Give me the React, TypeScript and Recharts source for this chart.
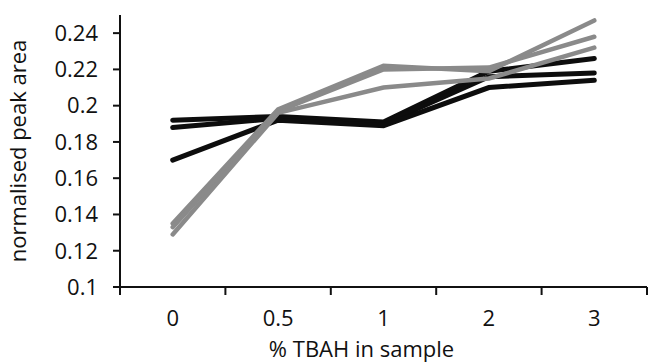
import { LineChart, Line, XAxis, YAxis } from "recharts"

const categories = ["0", "0.5", "1", "2", "3"]

const black1 = [0.192, 0.194, 0.191, 0.219, 0.226]
const black2 = [0.188, 0.193, 0.19, 0.216, 0.218]
const black3 = [0.17, 0.192, 0.189, 0.21, 0.214]
const grey1 = [0.135, 0.198, 0.222, 0.219, 0.247]
const grey2 = [0.133, 0.197, 0.22, 0.221, 0.238]
const grey3 = [0.129, 0.196, 0.21, 0.215, 0.232]

const yTicks = [0.1, 0.12, 0.14, 0.16, 0.18, 0.2, 0.22, 0.24]
const xTicks = [-0.5, 0, 0.5, 1, 1.5, 2, 2.5, 3, 3.5, 4, 4.5]

const data = categories.map((c, i) => ({
  x: i,
  b1: black1[i],
  b2: black2[i],
  b3: black3[i],
  g1: grey1[i],
  g2: grey2[i],
  g3: grey3[i],
}))

const font = "'Open Sans', sans-serif"

function XTick(props: any) {
  const { x, y, payload } = props
  const v = payload.value
  if (Number.isInteger(v)) {
    return (
      <text x={x} y={y + 39} textAnchor="middle" fontSize={22} fontFamily={font} fill="#111">
        {categories[v]}
      </text>
    )
  }
  return <line x1={x} x2={x} y1={y} y2={y + 8} stroke="#111" strokeWidth={2} />
}

const BLACK = "#0d0d0d"
const GREY = "#8a8a8a"

export default function App() {
  return (
    <div style={{ position: "absolute", left: 0, top: 0, background: "#fff" }}>
      <LineChart width={650} height={363} data={data} margin={{ top: 15, right: 3, left: 0, bottom: 0 }}>
        <XAxis
          dataKey="x"
          type="number"
          domain={[-0.5, 4.5]}
          ticks={xTicks}
          interval={0}
          tick={<XTick />}
          tickLine={false}
          tickSize={0}
          tickMargin={0}
          height={76}
          axisLine={{ stroke: "#111", strokeWidth: 2 }}
          label={{
            value: "% TBAH in sample",
            position: "insideBottom",
            offset: 6,
            dx: -22,
            fontSize: 22,
            fontFamily: font,
            fill: "#111",
          }}
        />
        <YAxis
          type="number"
          domain={[0.1, 0.25]}
          ticks={yTicks}
          interval={0}
          width={120}
          tickSize={7}
          tickMargin={15}
          tick={{ fontSize: 22, fontFamily: font, fill: "#111" }}
          tickLine={{ stroke: "#111", strokeWidth: 2 }}
          axisLine={{ stroke: "#111", strokeWidth: 2 }}
          label={{
            value: "normalised peak area",
            angle: -90,
            position: "insideLeft",
            offset: 18,
            fontSize: 22,
            fontFamily: font,
            fill: "#111",
            style: { textAnchor: "middle" },
          }}
        />
        <Line dataKey="b1" stroke={BLACK} strokeWidth={5} dot={false} isAnimationActive={false} strokeLinecap="round" />
        <Line dataKey="b2" stroke={BLACK} strokeWidth={5} dot={false} isAnimationActive={false} strokeLinecap="round" />
        <Line dataKey="b3" stroke={BLACK} strokeWidth={5} dot={false} isAnimationActive={false} strokeLinecap="round" />
        <Line dataKey="g1" stroke={GREY} strokeWidth={4.5} dot={false} isAnimationActive={false} strokeLinecap="round" />
        <Line dataKey="g2" stroke={GREY} strokeWidth={4.5} dot={false} isAnimationActive={false} strokeLinecap="round" />
        <Line dataKey="g3" stroke={GREY} strokeWidth={4.5} dot={false} isAnimationActive={false} strokeLinecap="round" />
      </LineChart>
    </div>
  )
}
